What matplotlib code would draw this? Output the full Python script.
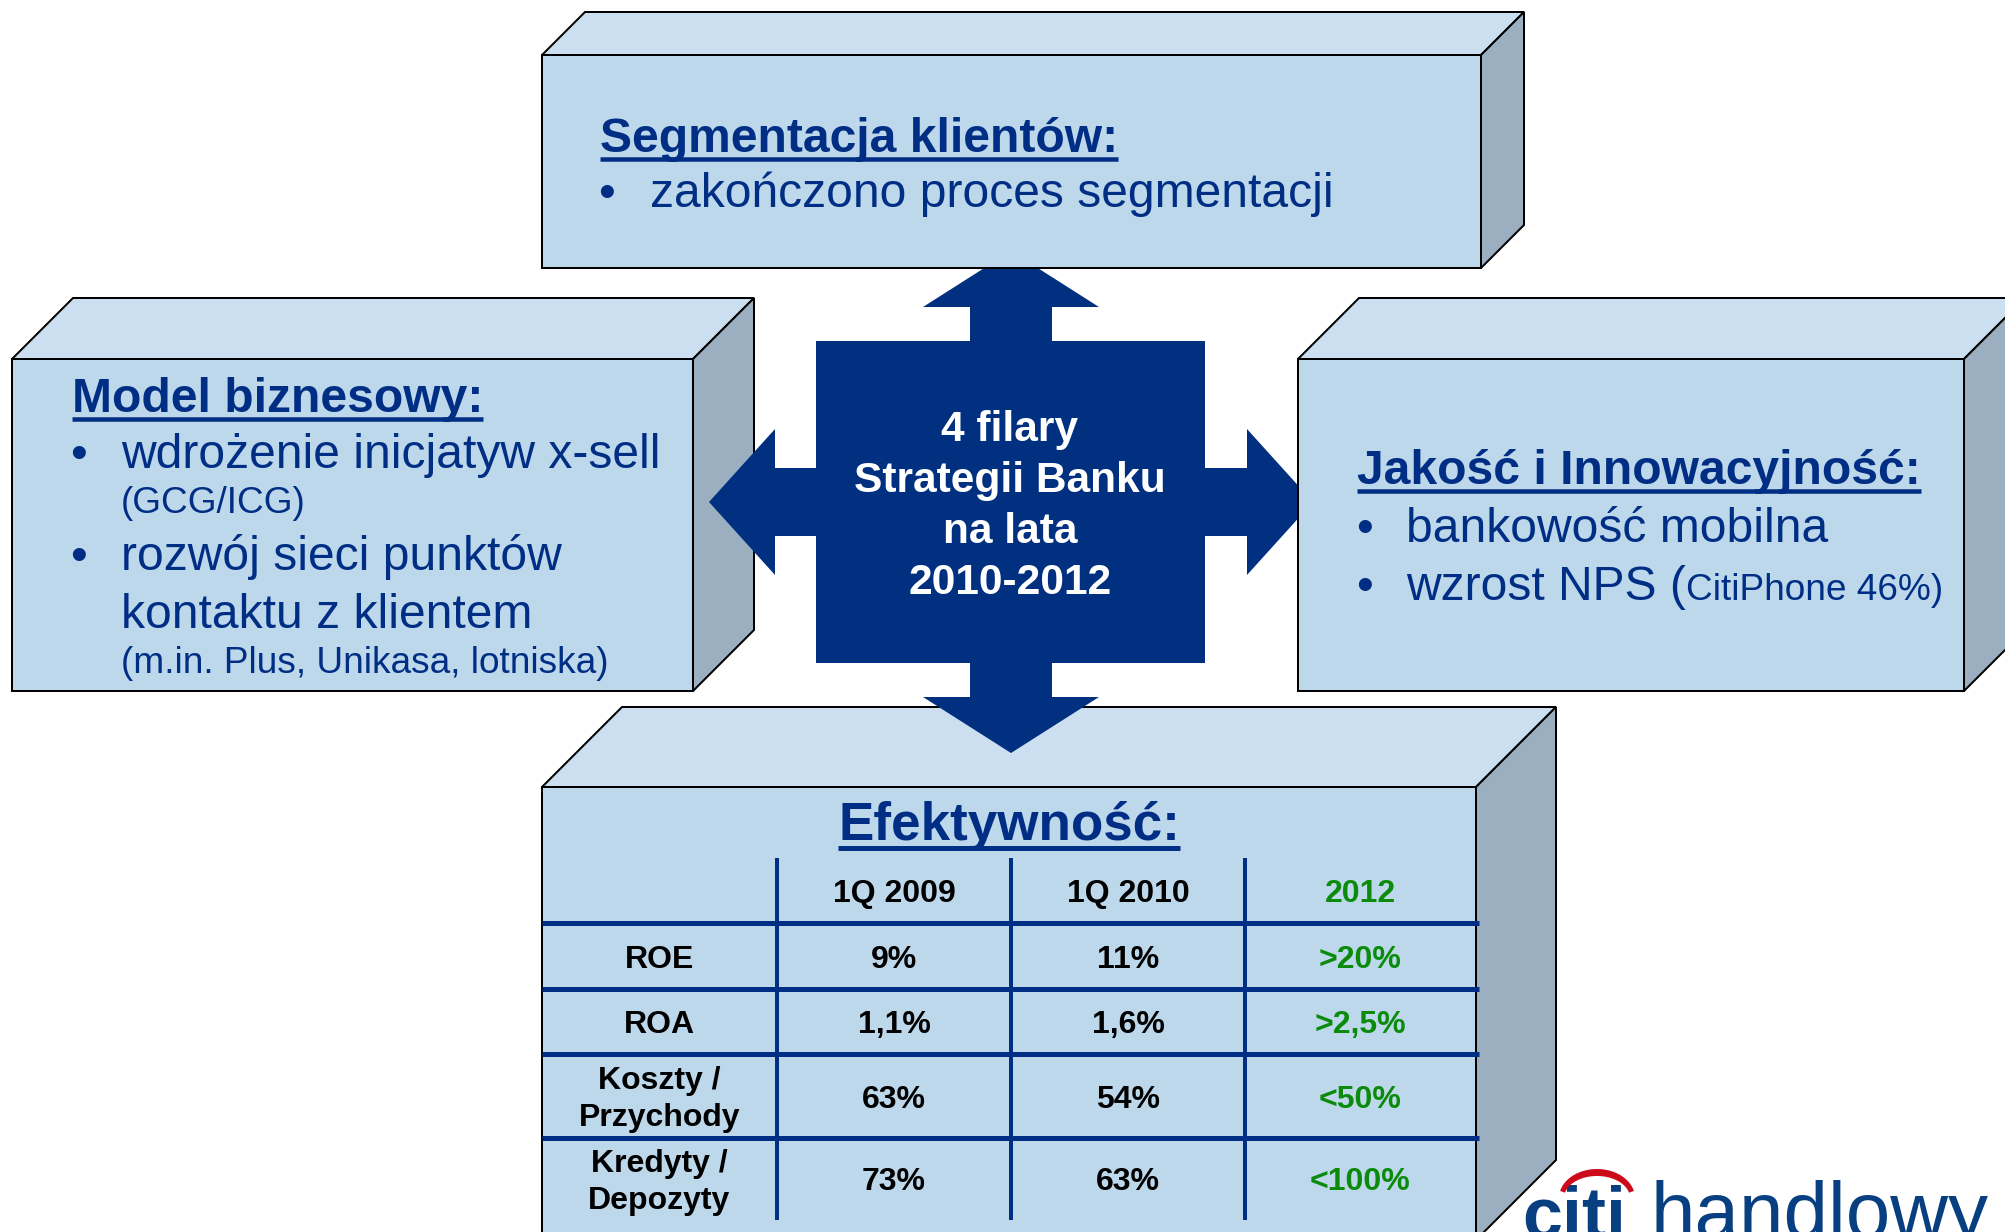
import matplotlib
matplotlib.use("Agg")
import numpy as np
import matplotlib.pyplot as plt
from matplotlib.patches import Polygon, Rectangle

# canvas in pixels
W, H = 2006, 1232
DPI = 100
FONT = ["Liberation Sans", "DejaVu Sans"]

NAVY = "#00307f"
TEXT_NAVY = "#002e85"
FRONT = "#bdd7eb"
TOP = "#cbdff0"
SIDE = "#9bafc0"
GREEN = "#0b8b0b"
LOGO_BLUE = "#073f80"
LOGO_RED = "#cc0a1a"

# ---- content ----
top_title = "Segmentacja klientów:"
top_items = ["zakończono proces segmentacji"]

left_title = "Model biznesowy:"
left_texts = ["wdrożenie inicjatyw x-sell", "(GCG/ICG)", "rozwój sieci punktów",
              "kontaktu z klientem", "(m.in. Plus, Unikasa, lotniska)"]
left_bullet = [True, False, True, False, False]
left_small = [False, True, False, False, True]

right_title = "Jakość i Innowacyjność:"
right_texts = ["bankowość mobilna", "wzrost NPS ("]
right_tail = "CitiPhone 46%)"

center_lines = ["4 filary", "Strategii Banku", "na lata", "2010-2012"]

bottom_title = "Efektywność:"
col_headers = ["1Q 2009", "1Q 2010", "2012"]
row_labels = [["ROE"], ["ROA"], ["Koszty /", "Przychody"], ["Kredyty /", "Depozyty"]]
values_2009 = ["9%", "1,1%", "63%", "73%"]
values_2010 = ["11%", "1,6%", "54%", "63%"]
targets_2012 = [">20%", ">2,5%", "<50%", "<100%"]

logo_a = "citi"
logo_b = "handlowy"


def pt(p):
    # pixel size -> points
    return p * 72 / DPI


fig = plt.figure(figsize=(W / DPI, H / DPI), dpi=DPI)
ax = fig.add_axes([0, 0, 1, 1])
ax.set_xlim(0, W)
ax.set_ylim(H, 0)
ax.axis("off")


def box3d(x0, y0, x1, y1, d, z):
    lw = pt(2)
    ax.add_patch(Polygon([(x0, y0), (x0 + d, y0 - d), (x1 + d, y0 - d), (x1, y0)],
                         closed=True, fc=TOP, ec="black", lw=lw, zorder=z))
    ax.add_patch(Polygon([(x1, y0), (x1 + d, y0 - d), (x1 + d, y1 - d), (x1, y1)],
                         closed=True, fc=SIDE, ec="black", lw=lw, zorder=z))
    ax.add_patch(Rectangle((x0, y0), x1 - x0, y1 - y0, fc=FRONT, ec="black", lw=lw, zorder=z))


box3d(542, 55, 1481, 268, 43, 3)      # top
box3d(12, 359, 693, 691, 61, 1)       # left
box3d(1298, 359, 1964, 691, 61, 3)    # right
box3d(542, 787, 1476, 1240, 80, 1)    # bottom

# ---- central four-way arrow ----
cx, cy = 1011, 502
sq_l, sq_r, sq_t, sq_b = 816, 1205, 341, 663
sh = 41        # half shaft width (vertical arrows)
shh = 34       # half shaft height (horizontal arrows)
hw = 88        # half head width (vertical arrows)
hh = 73        # half head height (horizontal arrows)
vl = 34        # shaft length
ht_v = 56      # head length vertical
ht_h = 66      # head length horizontal
pts = [
    (cx, sq_t - vl - ht_v), (cx + hw, sq_t - vl), (cx + sh, sq_t - vl), (cx + sh, sq_t),
    (sq_r, sq_t), (sq_r, cy - shh), (sq_r + 42, cy - shh), (sq_r + 42, cy - hh),
    (sq_r + 42 + ht_h, cy), (sq_r + 42, cy + hh), (sq_r + 42, cy + shh), (sq_r, cy + shh),
    (sq_r, sq_b), (cx + sh, sq_b), (cx + sh, sq_b + vl), (cx + hw, sq_b + vl),
    (cx, sq_b + vl + ht_v), (cx - hw, sq_b + vl), (cx - sh, sq_b + vl), (cx - sh, sq_b),
    (sq_l, sq_b), (sq_l, cy + shh), (sq_l - 41, cy + shh), (sq_l - 41, cy + hh),
    (sq_l - 41 - ht_h, cy), (sq_l - 41, cy - hh), (sq_l - 41, cy - shh), (sq_l, cy - shh),
    (sq_l, sq_t), (cx - sh, sq_t), (cx - sh, sq_t - vl), (cx - hw, sq_t - vl),
]
ax.add_patch(Polygon(pts, closed=True, fc=NAVY, ec="none", zorder=2))

for i, line in enumerate(center_lines):
    ax.text(1010, 441 + 51 * i, line, ha="center", va="baseline", color="white",
            fontsize=pt(42.5), fontweight="bold", family=FONT, zorder=5)

# ---- titles & bullets ----
underlined = []


def title(x, y, s, ha="left", size=48):
    t = ax.text(x, y, s, ha=ha, va="baseline", color=TEXT_NAVY, fontsize=pt(size),
                fontweight="bold", family=FONT, zorder=5)
    underlined.append((t, y, size))


def body(x, y, s, small=False, bullet_x=None):
    if bullet_x is not None:
        ax.text(bullet_x, y, "•", ha="left", va="baseline", color=TEXT_NAVY,
                fontsize=pt(48), family=FONT, zorder=5)
    return ax.text(x, y, s, ha="left", va="baseline", color=TEXT_NAVY,
                   fontsize=pt(37 if small else 48), family=FONT, zorder=5)


title(600, 152, top_title)
body(650, 207, top_items[0], bullet_x=598)

title(72, 412, left_title)
left_base = [468, 513, 570, 628, 673]
for s, b, sm, yb in zip(left_texts, left_bullet, left_small, left_base):
    body(121, yb, s, small=sm, bullet_x=70 if b else None)

title(1357, 484, right_title)
body(1406, 542, right_texts[0], bullet_x=1356)
nps = body(1406, 600, right_texts[1], bullet_x=1356)

title(1009, 840, bottom_title, ha="center", size=53)

# ---- table ----
row_bounds = [858, 923, 989, 1054, 1138, 1220]
col_bounds = [542, 777, 1011, 1245, 1476]
for yb in row_bounds[1:-1]:
    ax.plot([542, 1479], [yb, yb], color=TEXT_NAVY, lw=pt(5), solid_capstyle="butt", zorder=4)
for xb in col_bounds[1:-1]:
    ax.plot([xb, xb], [row_bounds[0], row_bounds[-1]], color=TEXT_NAVY, lw=pt(4),
            solid_capstyle="butt", zorder=4)

cap = 11.5
col_c = [(col_bounds[i] + col_bounds[i + 1]) / 2 for i in range(4)]
tsize = pt(32)
hy = (row_bounds[0] + row_bounds[1]) / 2 + cap
for j, h in enumerate(col_headers):
    ax.text(col_c[j + 1], hy, h, ha="center", va="baseline", fontsize=tsize,
            fontweight="bold", color=GREEN if j == 2 else "black", family=FONT, zorder=5)
for i in range(4):
    yc = (row_bounds[i + 1] + row_bounds[i + 2]) / 2
    lab = row_labels[i]
    n = len(lab)
    for k, s in enumerate(lab):
        ax.text(col_c[0], yc + cap + (k - (n - 1) / 2) * 37, s, ha="center", va="baseline",
                fontsize=tsize, fontweight="bold", color="black", family=FONT, zorder=5)
    for j, (v, c) in enumerate(zip([values_2009[i], values_2010[i], targets_2012[i]],
                                   ["black", "black", GREEN])):
        ax.text(col_c[j + 1], yc + cap, v, ha="center", va="baseline", fontsize=tsize,
                fontweight="bold", color=c, family=FONT, zorder=5)

# ---- logo (cut by the lower edge, as in the original slide) ----
ax.text(1522, 1238, logo_a, ha="left", va="baseline", fontsize=pt(72), fontweight="bold",
        color=LOGO_BLUE, family=FONT, zorder=5)
ax.text(1651, 1238, logo_b, ha="left", va="baseline", fontsize=pt(80),
        color=LOGO_BLUE, family=FONT, zorder=5)
a = np.radians(np.linspace(14, 166, 40))
outer = np.column_stack([1597 + 38 * np.cos(a), 1198 - 29 * np.sin(a)])
inner = np.column_stack([1597 + 33 * np.cos(a[::-1]), 1198 - 22 * np.sin(a[::-1])])
ax.add_patch(Polygon(np.vstack([outer, inner]), closed=True, fc=LOGO_RED, ec="none", zorder=6))

# ---- underlines and the small NPS tail (need text extents) ----
fig.canvas.draw()
r = fig.canvas.get_renderer()
inv = ax.transData.inverted()
for t, yb, size in underlined:
    bb = t.get_window_extent(r)
    (x0, _), (x1, _) = inv.transform([[bb.x0, bb.y0], [bb.x1, bb.y1]])
    off = 7 * size / 48
    ax.plot([x0, x1], [yb + off, yb + off], color=TEXT_NAVY, lw=pt(4.5 * size / 48),
            solid_capstyle="butt", zorder=5)
bb = nps.get_window_extent(r)
xr = inv.transform([[bb.x1, bb.y0]])[0][0]
ax.text(xr, 600, right_tail, ha="left", va="baseline", color=TEXT_NAVY,
        fontsize=pt(37), family=FONT, zorder=5)

fig.savefig("out.png", dpi=DPI, facecolor="white")
